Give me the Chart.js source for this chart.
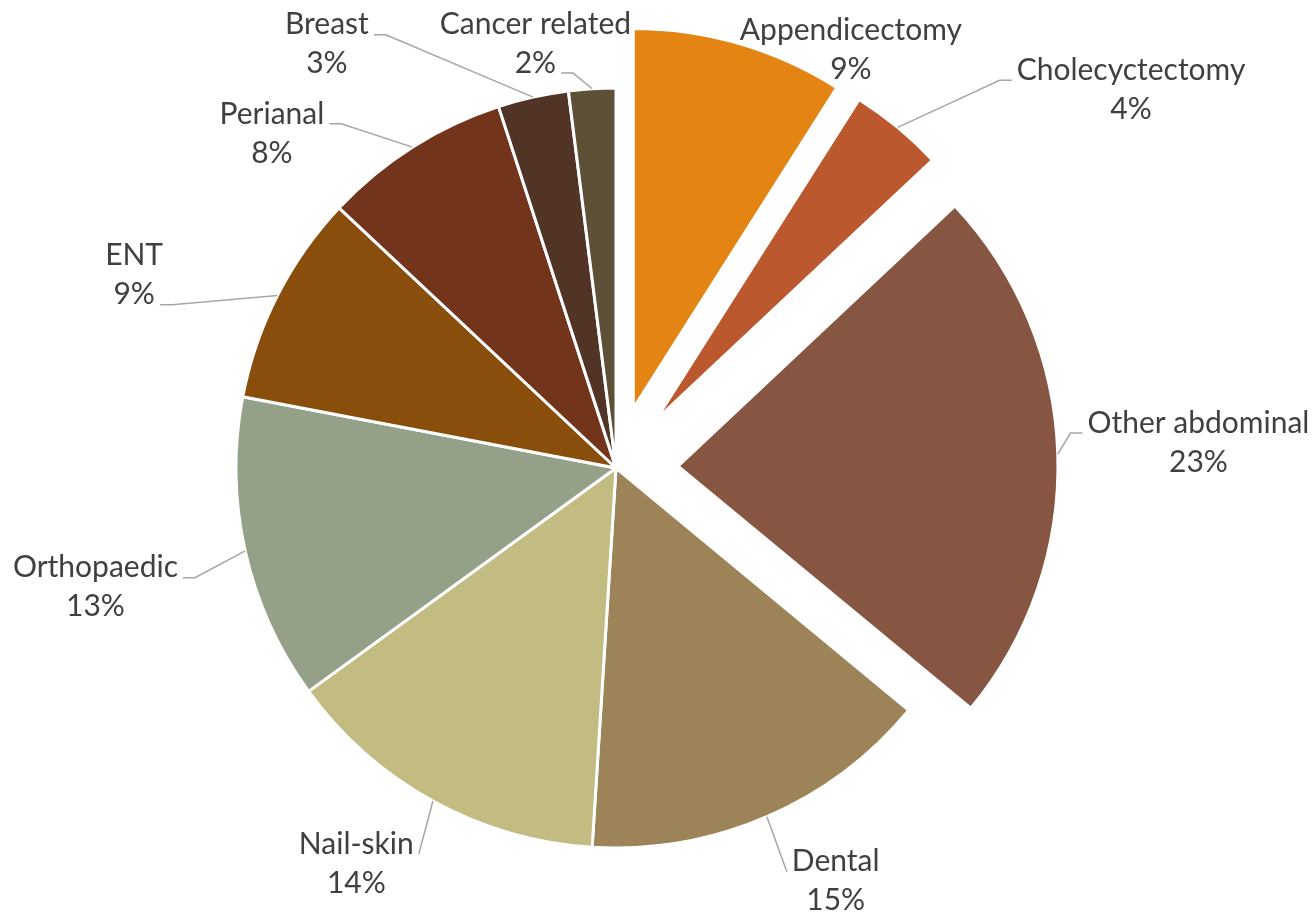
<!DOCTYPE html>
<html>
<head>
<meta charset="utf-8">
<title>Surgery categories</title>
<script src="https://cdn.jsdelivr.net/npm/chart.js@4"></script>
<style>
  html, body { margin: 0; padding: 0; background: #ffffff; }
  canvas { display: block; }
</style>
</head>
<body>
<canvas id="surgeryPie" width="1314" height="914"></canvas>
<script>
const categories = ['Appendicectomy', 'Cholecyctectomy', 'Other abdominal', 'Dental', 'Nail-skin',
                    'Orthopaedic', 'ENT', 'Perianal', 'Breast', 'Cancer related'];
const shares = [9, 4, 23, 15, 14, 13, 9, 8, 3, 2];

const sliceColours = ['#E48413', '#BC582D', '#865642', '#9C8358', '#C3BC82',
                      '#95A089', '#8A4E0C', '#72351B', '#523427', '#5D5036'];

// how far (px) each slice is pulled out of the pie
const explodePx = [62, 62, 62, 0, 0, 0, 0, 0, 0, 0];

// label placement: [angle nudge from slice middle (deg), gap beyond rim (px), text row the leader meets]
const labelPlacement = [
    [13.1, 100, 0],
    [14.1, 259, 0],
    [-0.7, 203, 0],
    [-4.6, 88, 0],
    [4.5, 93, 0],
    [-0.3, 154, 0],
    [-5.2, 139, 1],
    [-13.4, 100, 0],
    [-21.7, 133, 0],
    [-7.15, 52, 1]
];

const LABEL_FONT = '30px Lato';
const LINE_HEIGHT = 39;

// Chart.js' own arc offset also grows the radius of narrow slices,
// so pull the slices out by moving their centres instead.
const explodeSlices = {
    id: 'explodeSlices',
    afterDatasetUpdate(chart, args) {
        if (args.index !== 0) return;
        args.meta.data.forEach((arc, i) => {
            const d = explodePx[i];
            if (!d) return;
            const mid = (arc.startAngle + arc.endAngle) / 2;
            arc.x += Math.cos(mid) * d;
            arc.y += Math.sin(mid) * d;
        });
    }
};

const leaderLabels = {
    id: 'leaderLabels',
    afterDatasetsDraw(chart) {
        const { ctx } = chart;
        const arcs = chart.getDatasetMeta(0).data;
        const total = shares.reduce((a, b) => a + b, 0);

        ctx.save();
        ctx.font = LABEL_FONT;
        ctx.textAlign = 'center';
        ctx.textBaseline = 'middle';

        arcs.forEach((arc, i) => {
            const { x, y, startAngle, endAngle, outerRadius } = arc;
            const mid = (startAngle + endAngle) / 2;
            // pie centre, before the slice was pulled out
            const cx = x - Math.cos(mid) * explodePx[i];
            const cy = y - Math.sin(mid) * explodePx[i];

            // rim point of the slice
            const sx = x + Math.cos(mid) * outerRadius;
            const sy = y + Math.sin(mid) * outerRadius;

            const [nudge, gap, row] = labelPlacement[i];
            const a = mid + nudge * Math.PI / 180;
            const lx = cx + Math.cos(a) * (outerRadius + gap);
            const ly = cy + Math.sin(a) * (outerRadius + gap);

            const lines = [categories[i], Math.round(shares[i] / total * 100) + '%'];

            // leader line, ending in a short horizontal stub beside the text
            const rowY = ly + (row - 0.5) * LINE_HEIGHT;
            const rowW = ctx.measureText(lines[row]).width;
            const toRight = lx > sx;
            const ax = toRight ? lx - rowW / 2 - 5 : lx + rowW / 2 + 5;
            const ay = rowY + 10;
            if (Math.hypot(ax - sx, ay - sy) > 20) {
                const steep = Math.abs(ax - sx) < 0.6 * Math.abs(ay - sy);
                const ex = steep ? ax : (toRight ? ax - 12 : ax + 12);
                ctx.strokeStyle = '#A6A6A6';
                ctx.lineWidth = 1.5;
                ctx.beginPath();
                ctx.moveTo(sx, sy);
                ctx.lineTo(ex, ay);
                ctx.lineTo(ax, ay);
                ctx.stroke();
            }

            ctx.fillStyle = '#404040';
            lines.forEach((t, k) => ctx.fillText(t, lx, ly + (k - 0.5) * LINE_HEIGHT));
        });
        ctx.restore();
    }
};

new Chart(document.getElementById('surgeryPie'), {
    type: 'pie',
    plugins: [explodeSlices, leaderLabels],
    data: {
        labels: categories,
        datasets: [{
            data: shares,
            backgroundColor: sliceColours,
            borderColor: '#ffffff',
            borderWidth: 3,
            hoverOffset: 0
        }]
    },
    options: {
        responsive: false,
        animation: false,
        events: [],
        radius: 380,
        layout: {
            padding: { left: 0, right: 82, top: 22, bottom: 0 }
        },
        plugins: {
            legend: { display: false },
            tooltip: { enabled: false }
        }
    }
});
</script>
</body>
</html>
